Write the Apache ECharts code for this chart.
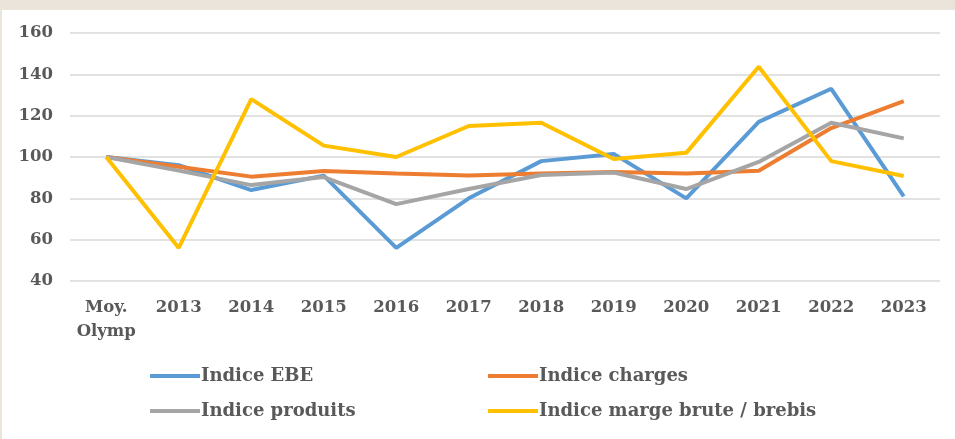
<!DOCTYPE html>
<html>
<head>
<meta charset="utf-8">
<script src="https://cdn.jsdelivr.net/npm/echarts@6/dist/echarts.min.js"></script>
<style>
html,body{margin:0;padding:0;background:#ebe4da;width:955px;height:439px;overflow:hidden;}
#chart{position:absolute;left:2px;top:10px;width:953px;height:429px;background:#ffffff;}
</style>
</head>
<body>
<div id="chart"></div>
<script>
var categories = ['Moy.\nOlymp','2013','2014','2015','2016','2017','2018','2019','2020','2021','2022','2023'];
var indiceEBE = [100, 96, 84, 91, 56, 80, 98, 101.5, 80, 117, 133, 81];
var indiceCharges = [100, 95.3, 90.5, 93.2, 92, 91, 92, 92.8, 92, 93.3, 114, 127];
var indiceProduits = [100, 93.4, 86.4, 90.3, 77.2, 84.5, 91.3, 92.5, 84.5, 97.6, 116.6, 109];
var indiceMarge = [100, 56, 128, 105.5, 100, 115, 116.6, 99, 102, 143.7, 98, 90.8];
var yTicks = [40, 60, 80, 100, 120, 140, 160];

var seriesNames = ['Indice EBE','Indice charges','Indice produits','Indice marge brute / brebis'];
var seriesData = [indiceEBE, indiceCharges, indiceProduits, indiceMarge];
var colors = ['#5b9bd5','#ed7d31','#a5a5a5','#ffc000'];
var fontFam = '"DejaVu Serif", serif';

var chart = echarts.init(document.getElementById('chart'));
var legendBase = {
  orient: 'vertical',
  top: 355,
  padding: 0,
  icon: 'rect',
  itemWidth: 50,
  itemHeight: 4,
  itemGap: 13,
  textStyle: {fontFamily: fontFam, fontWeight: 'bold', fontSize: 18, color: '#595959', lineHeight: 22, padding: [0,0,0,-4]},
  selectedMode: false
};
chart.setOption({
  animation: false,
  color: colors,
  grid: {left: 68, right: 15, top: 23, bottom: 158, containLabel: false},
  legend: [
    Object.assign({}, legendBase, {left: 148, data: [seriesNames[0], seriesNames[2]]}),
    Object.assign({}, legendBase, {left: 486, data: [seriesNames[1], seriesNames[3]]})
  ],
  xAxis: {
    type: 'category',
    data: categories,
    boundaryGap: true,
    axisLine: {show: false},
    axisTick: {show: false},
    axisLabel: {fontFamily: fontFam, fontWeight: 'bold', fontSize: 16.5, color: '#595959', margin: 15, lineHeight: 24, interval: 0}
  },
  yAxis: {
    type: 'value',
    min: yTicks[0],
    max: yTicks[yTicks.length-1],
    interval: 20,
    axisLine: {show: false},
    axisTick: {show: false},
    splitLine: {lineStyle: {color: '#d9d9d9', width: 1.5}},
    axisLabel: {fontFamily: fontFam, fontWeight: 'bold', fontSize: 16.5, color: '#595959', margin: 17}
  },
  series: seriesNames.map(function(n, i){
    return {
      name: n,
      type: 'line',
      data: seriesData[i],
      symbol: 'none',
      lineStyle: {width: 4, color: colors[i]},
      itemStyle: {color: colors[i]},
      z: i === 3 ? 3 : 2
    };
  })
});
</script>
</body>
</html>
